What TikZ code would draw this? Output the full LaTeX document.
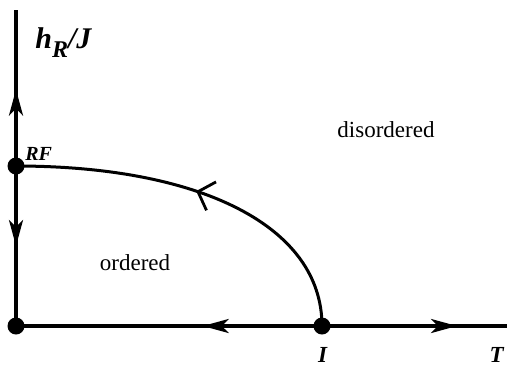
\documentclass[tikz,border=0pt]{standalone}
\usepackage{fontspec}
\setmainfont{Liberation Serif}
\usetikzlibrary{arrows.meta,decorations.markings}
\newcommand{\bit}[1]{\textbf{\textit{#1}}}
\tikzset{
  dot/.style={circle,fill,inner sep=0pt,minimum size=8.5pt},
  axis/.style={line width=1.8pt},
  flow/.style={postaction={decorate},decoration={markings,
    mark=at position #1 with {\arrow{Stealth[length=13pt,width=7pt,inset=3.5pt]}}}},
  rgflow/.style={postaction={decorate},decoration={markings,
    mark=at position #1 with {\arrow{Straight Barb[length=7pt,width=15pt,line width=1.4pt]}}}},
}

\begin{document}
\begin{tikzpicture}[x=0.5pt,y=-0.5pt,font=\fontsize{11.5}{14}\selectfont]
\useasboundingbox (0,0) rectangle (507,366);

% fixed points
\node[dot] (O) at (16,326) {};
\node[dot] (RF) at (16,166) {};
\node[dot] (I) at (322,326) {};
\coordinate (top) at (16,10);
\coordinate (end) at (507,326);

% axes with flow
\draw[axis,flow=0.49] (RF.center) -- (top);
\draw[axis,flow=0.5] (RF.center) -- (O.center);
\draw[axis,flow=0.39] (I.center) -- (O.center);
\draw[axis,flow=0.73] (I.center) -- (end);

% phase boundary
\draw[line width=1.5pt,rgflow=0.52] (I.center) .. controls (322,226) and (200,166) .. (RF.center);

% labels
\node[anchor=base west,inner sep=0pt] (hlab) at (35,48) {\fontsize{15}{17}\selectfont\bit{h}\raisebox{-0.3em}{\fontsize{12}{14}\selectfont\bit{R}}\bit{/J}};
\node[anchor=base west,inner sep=0pt] (rflab) at (25,160) {\fontsize{10}{12}\selectfont\bit{RF}};
\node[anchor=base,inner sep=0pt] (dis) at (386,137) {disordered};
\node[anchor=base,inner sep=0pt] (ord) at (135,270) {ordered};
\node[anchor=north,inner sep=0pt] (ilab) at (323,347) {\bit{I}};
\node[anchor=north,inner sep=0pt] (tlab) at (497,347) {\bit{T}};

\end{tikzpicture}
\end{document}
